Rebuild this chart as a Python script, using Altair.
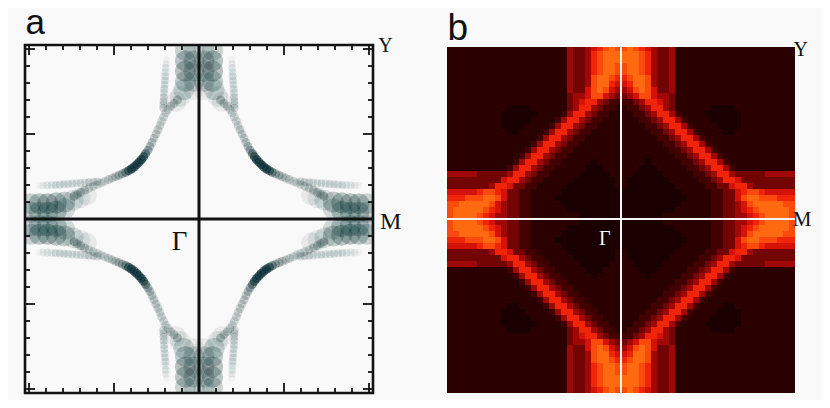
import altair as alt
import pandas as pd

# Panel a: ridge points of the upper-left quadrant (distance from the M and Y axes)
arc_u = [.127,.147,.167,.182,.196,.208,.22,.23,.241,.253,.265,.276,.288,.30,.314,.326,.339,.353,.367,
         .382,.398,.414,.431,.451,.471,.49,.51,.532,.555,.576,.598,.622,.647,.672,.696,.716,.735]
arc_v = [.70,.68,.663,.644,.624,.60,.575,.55,.525,.50,.476,.451,.427,.405,.384,.366,.349,.334,.32,
         .306,.294,.284,.275,.266,.257,.249,.241,.232,.222,.212,.202,.192,.182,.17,.157,.145,.133]
arc_w = [.2,.18,.16,.15,.15,.15,.15,.15,.16,.17,.18,.2,.24,.35,.6,.85,1,1,1,
         1,1,.75,.5,.32,.24,.2,.18,.16,.15,.15,.15,.15,.15,.16,.18,.2,.2]
top_u = [.192,.194,.196,.197,.198,.20,.202,.204,.206,.207,.208,.209,.21]
top_v = [.937,.912,.888,.863,.839,.815,.79,.765,.741,.716,.692,.672,.653]
top_w = [.04,.06,.08,.09,.1,.1,.11,.12,.12,.13,.13,.14,.14]
left_u = [.941,.916,.892,.867,.843,.818,.794,.77,.745,.72,.696,.671,.647,.622,.598]
left_v = [.196,.197,.198,.199,.2,.202,.204,.206,.208,.21,.212,.214,.216,.218,.22]
left_w = [.04,.06,.08,.09,.1,.1,.1,.11,.11,.12,.12,.12,.13,.13,.14]
blob_u = [.99,.94,.89,.84,.79,.99,.94,.89,.84,.79,.74,.70,.66,
          .03,.03,.03,.03,.03,.08,.08,.08,.08,.09,.11,.135]
blob_v = [.04,.04,.04,.045,.06,.09,.09,.09,.095,.1,.11,.125,.14,
          .99,.93,.87,.81,.76,.99,.93,.87,.81,.76,.72,.69]
blob_w = [.16,.22,.26,.22,.13,.16,.24,.28,.25,.19,.12,.09,.06,
          .12,.16,.18,.13,.05,.16,.24,.28,.22,.14,.09,.06]

# Panel b: intensity levels of the upper-left quadrant, one string per row
rows_b = [
    "11111111111111111111433456787",
    "11111111111111111111433467888",
    "11111111111111111111433467888",
    "11111111111111111111433467887",
    "11111111111111111111433467887",
    "11111111111111111111433478876",
    "11111111111111111111433478865",
    "11111111111111111111433578754",
    "11111111111111111111344577543",
    "11111111111111111111345664322",
    "11111111110000111111346643221",
    "11111111100000011112466432211",
    "11111111100000111124664322111",
    "11111111100001111246643221111",
    "11111111110011112466432211111",
    "11111111111111124664322111111",
    "11111111111111246643221111111",
    "11111111111112466432211111111",
    "11111111111124664322111111111",
    "11111111111246643221111101111",
    "11111111112466432211111000111",
    "44444333334664322111110000011",
    "33333333356643221111100000001",
    "33333334665332211111000000001",
    "55555677653322111110000000000",
    "66677788753322111100000000000",
    "77888887543322111110000000000",
    "78888876543322111111000000000",
    "78888765443322111111110000000",
]
levels_b = list(range(9))
colors_b = ["#1a0000", "#2b0000", "#420000", "#720404", "#a00805", "#d41208", "#f02408", "#fb4a0c", "#ff6a10"]

ticks = [round(i / 10, 1) for i in range(-10, 11)]
majors = [-1.0, -0.5, 0.0, 0.5, 1.0]

BG = "#f9f9f9"
UNIT = 170                      # pixels per k unit
W, H = 814, 392                 # whole picture inside the page margin
CA_X, CB_X, C_Y = 191, 613, 211 # panel centres
EDGE = 174 / UNIT
SHIFT = (CB_X - CA_X) / UNIT    # k offset of panel b in the shared scale

xs = alt.Scale(domain=[-CA_X / UNIT, (W - CA_X) / UNIT], nice=False, zero=False)
ys = alt.Scale(domain=[(C_Y - H) / UNIT, C_Y / UNIT], nice=False, zero=False)
X = lambda f: alt.X(f, type="quantitative", scale=xs, axis=None)
Y = lambda f: alt.Y(f, type="quantitative", scale=ys, axis=None)


def labels(items, color):
    out = []
    for txt, x, y, size, font in items:
        out.append(
            alt.Chart(pd.DataFrame({"x": [x], "y": [y], "t": [txt]}))
            .mark_text(align="left", baseline="alphabetic", font=font, fontSize=size, color=color)
            .encode(x=X("x"), y=Y("y"), text="t:N")
        )
    return out


def box(x0, x1, y0, y1, **kw):
    return alt.Chart(pd.DataFrame({"x": [x0], "x2": [x1], "y": [y0], "y2": [y1]})).mark_rect(**kw).encode(
        x=X("x"), x2="x2", y=Y("y"), y2="y2")


def cross(cx, half, color, width):
    return alt.Chart(pd.DataFrame({
        "x": [cx, cx - half], "x2": [cx, cx + half], "y": [-half, 0], "y2": [half, 0],
    })).mark_rule(color=color, strokeWidth=width).encode(x=X("x"), x2="x2", y=Y("y"), y2="y2")


# ---------- panel a
pts = []
for us, vs, ws, spread in [(arc_u, arc_v, arc_w, .18), (top_u, top_v, top_w, .15),
                           (left_u, left_v, left_w, .15), (blob_u, blob_v, blob_w, 1.0)]:
    for u, v, w in zip(us, vs, ws):
        for sx in (-1, 1):
            for sy in (-1, 1):
                pts.append({"x": sx * u, "y": sy * v, "w": w, "s": spread})
pts = pd.DataFrame(pts)

clouds = []
for area in (440, 360, 290, 225, 165, 115, 70, 30):
    clouds.append(
        alt.Chart(pts).mark_circle(color="#0e3236").encode(
            x=X("x"), y=Y("y"),
            size=alt.Size("s:Q", scale=alt.Scale(domain=[0, 1], range=[0, area]), legend=None),
            opacity=alt.Opacity("w:Q", scale=alt.Scale(domain=[0, 1], range=[0, .14]), legend=None),
        )
    )

# everything of the cloud that spills over the frame is hidden by page-coloured strips
strips = [
    box(-EDGE - .3, -EDGE, -EDGE - .3, EDGE + .3, fill=BG),
    box(EDGE, EDGE + .3, -EDGE - .3, EDGE + .3, fill=BG),
    box(-EDGE - .3, EDGE + .3, EDGE, EDGE + .3, fill=BG),
    box(-EDGE - .3, EDGE + .3, -EDGE - .3, -EDGE, fill=BG),
]

tick_rows = []
for t in ticks:
    ln = 10 / UNIT if t in majors else 5 / UNIT
    tick_rows += [
        {"x": t, "x2": t, "y": EDGE, "y2": EDGE - ln},
        {"x": t, "x2": t, "y": -EDGE, "y2": -EDGE + ln},
        {"x": -EDGE, "x2": -EDGE + ln, "y": t, "y2": t},
        {"x": EDGE, "x2": EDGE - ln, "y": t, "y2": t},
    ]
tick_layer = alt.Chart(pd.DataFrame(tick_rows)).mark_rule(color="#111", strokeWidth=1.8).encode(
    x=X("x"), x2="x2", y=Y("y"), y2="y2")
frame = box(-EDGE, EDGE, -EDGE, EDGE, filled=False, stroke="#111", strokeWidth=2.6)

# ---------- panel b
cell = 6 / UNIT
cells = []
for r, row in enumerate(rows_b):
    assert len(row) == 29, r
    for c, ch in enumerate(row):
        for sx in (-1, 1):
            for sy in (-1, 1):
                cells.append({
                    "x": SHIFT + sx * (29 - c) * cell, "x2": SHIFT + sx * (28 - c) * cell,
                    "y": sy * (29 - r) * cell, "y2": sy * (28 - r) * cell,
                    "level": int(ch),
                })
cells = pd.DataFrame(cells)
cscale = alt.Scale(domain=levels_b, range=colors_b)
heat = alt.Chart(cells).mark_rect().encode(
    x=X("x"), x2="x2", y=Y("y"), y2="y2",
    color=alt.Color("level:O", scale=cscale, legend=None),
)
strips_b = [
    box(SHIFT - EDGE - .1, SHIFT + EDGE + .1, EDGE - 2 / UNIT, EDGE + .1, fill=BG),
    box(SHIFT - EDGE - .1, SHIFT + EDGE + .1, -EDGE - .1, -EDGE, fill=BG),
]

chart = alt.layer(
    *clouds, *strips, cross(0, EDGE, "#111", 3), tick_layer, frame,
    heat, *strips_b, cross(SHIFT, EDGE, "#f5f5f5", 2),
    *labels([
        ("a", -1.02, 1.09, 35, "Liberation Sans"),
        ("Y", 1.055, .985, 20, "Liberation Serif"),
        ("M", 1.065, -0.06, 24, "Liberation Serif"),
        ("Γ", -0.16, -0.18, 27, "Liberation Serif"),
        ("b", SHIFT - 1.02, 1.055, 37, "Liberation Sans"),
        ("Y", SHIFT + 1.015, .96, 20, "Liberation Serif"),
        ("M", SHIFT + 1.01, -0.04, 21, "Liberation Serif"),
    ], "#111"),
    *labels([("Γ", SHIFT - .13, -0.15, 20, "Liberation Serif")], "#f5f5f5"),
).properties(
    width=W, height=H, background=BG, padding=0,
    autosize=alt.AutoSizeParams(type="none"),
).configure_view(stroke=None)

chart.save("out.html", embed_options={"renderer": "svg", "actions": False})
